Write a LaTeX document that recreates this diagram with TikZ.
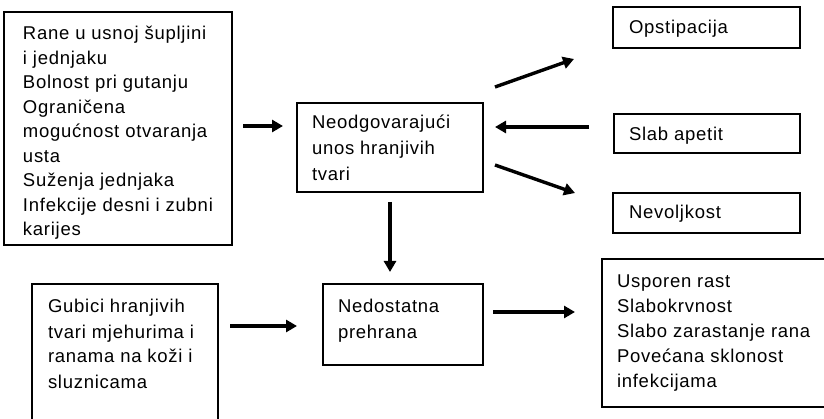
\documentclass[tikz,border=0pt]{standalone}
\usepackage{fontspec}
\setmainfont{Liberation Sans}[LetterSpace=4]
\usetikzlibrary{arrows.meta}
\begin{document}
\begin{tikzpicture}[x=1pt,y=-1pt,
  box/.style={draw=black, line width=1.3pt, anchor=north west, inner sep=0pt, outer sep=0pt},
  boxline/.style={draw=black, line width=1.3pt},
  txt/.style={anchor=north west, align=left, inner sep=0pt, outer sep=0pt, font=\fontsize{18.5}{25}\selectfont},
  arr/.style={line width=3.4pt, -{Triangle[length=11pt,width=12pt]}}]
\useasboundingbox (0,0) rectangle (824,419);
\fill[white] (0,0) rectangle (824,419);

% boxes
\node[box, minimum width=228pt, minimum height=233pt] (A) at (4,12) {};
\node[box, minimum width=186pt, minimum height=89pt] (B) at (297,103) {};
\node[box, minimum width=187pt, minimum height=41pt] (Op) at (613,7) {};
\node[box, minimum width=186pt, minimum height=39pt] (Sl) at (614,114) {};
\node[box, minimum width=187pt, minimum height=40pt] (Nv) at (613,193) {};
\node[anchor=north west, inner sep=0pt, outer sep=0pt, minimum width=186pt, minimum height=140pt] (G) at (32,284) {};
\draw[boxline] (G.south west) |- (G.north east) -- (G.south east);
\node[box, minimum width=160pt, minimum height=81pt] (Nd) at (323,284) {};
\node[box, minimum width=224pt, minimum height=148pt] (Us) at (602,259) {};

% texts
\node[txt, font=\fontsize{18.5}{24.5}\selectfont] (At) at (23,23) {\rule{0pt}{17pt}Rane u usnoj šupljini\\i jednjaku\\Bolnost pri gutanju\\Ograničena\\mogućnost otvaranja\\usta\\Suženja jednjaka\\Infekcije desni i zubni\\karijes};
\node[txt, font=\fontsize{18.5}{26}\selectfont] (Bt) at (312,112) {\rule{0pt}{17pt}Neodgovarajući\\unos hranjivih\\tvari};
\node[txt] (Opt) at (629,17) {\rule{0pt}{17pt}Opstipacija};
\node[txt] (Slt) at (629,124) {\rule{0pt}{17pt}Slab apetit};
\node[txt] (Nvt) at (629,202) {\rule{0pt}{17pt}Nevoljkost};
\node[txt] (Gt) at (48,296) {\rule{0pt}{17pt}Gubici hranjivih\\tvari mjehurima i\\ranama na koži i\\sluznicama};
\node[txt] (Ndt) at (338,296) {\rule{0pt}{17pt}Nedostatna\\prehrana};
\node[txt] (Ust) at (617,270) {\rule{0pt}{17pt}Usporen rast\\Slabokrvnost\\Slabo zarastanje rana\\Povećana sklonost\\infekcijama};

% arrow end points
\coordinate (aAs) at (243,126);  \coordinate (aAe) at (283,126);
\coordinate (aOs) at (495,87);   \coordinate (aOe) at (574,59);
\coordinate (aSs) at (589,127);  \coordinate (aSe) at (495,127);
\coordinate (aNs) at (495,165);  \coordinate (aNe) at (575,193);
\coordinate (aDs) at (390,202);  \coordinate (aDe) at (390,272);
\coordinate (aGs) at (230,326);  \coordinate (aGe) at (297,326);
\coordinate (aUs) at (493,312);  \coordinate (aUe) at (575,312);

\draw[arr] (aAs) -- (aAe);
\draw[arr] (aOs) -- (aOe);
\draw[arr] (aSs) -- (aSe);
\draw[arr] (aNs) -- (aNe);
\draw[arr] (aDs) -- (aDe);
\draw[arr] (aGs) -- (aGe);
\draw[arr] (aUs) -- (aUe);
\end{tikzpicture}
\end{document}
